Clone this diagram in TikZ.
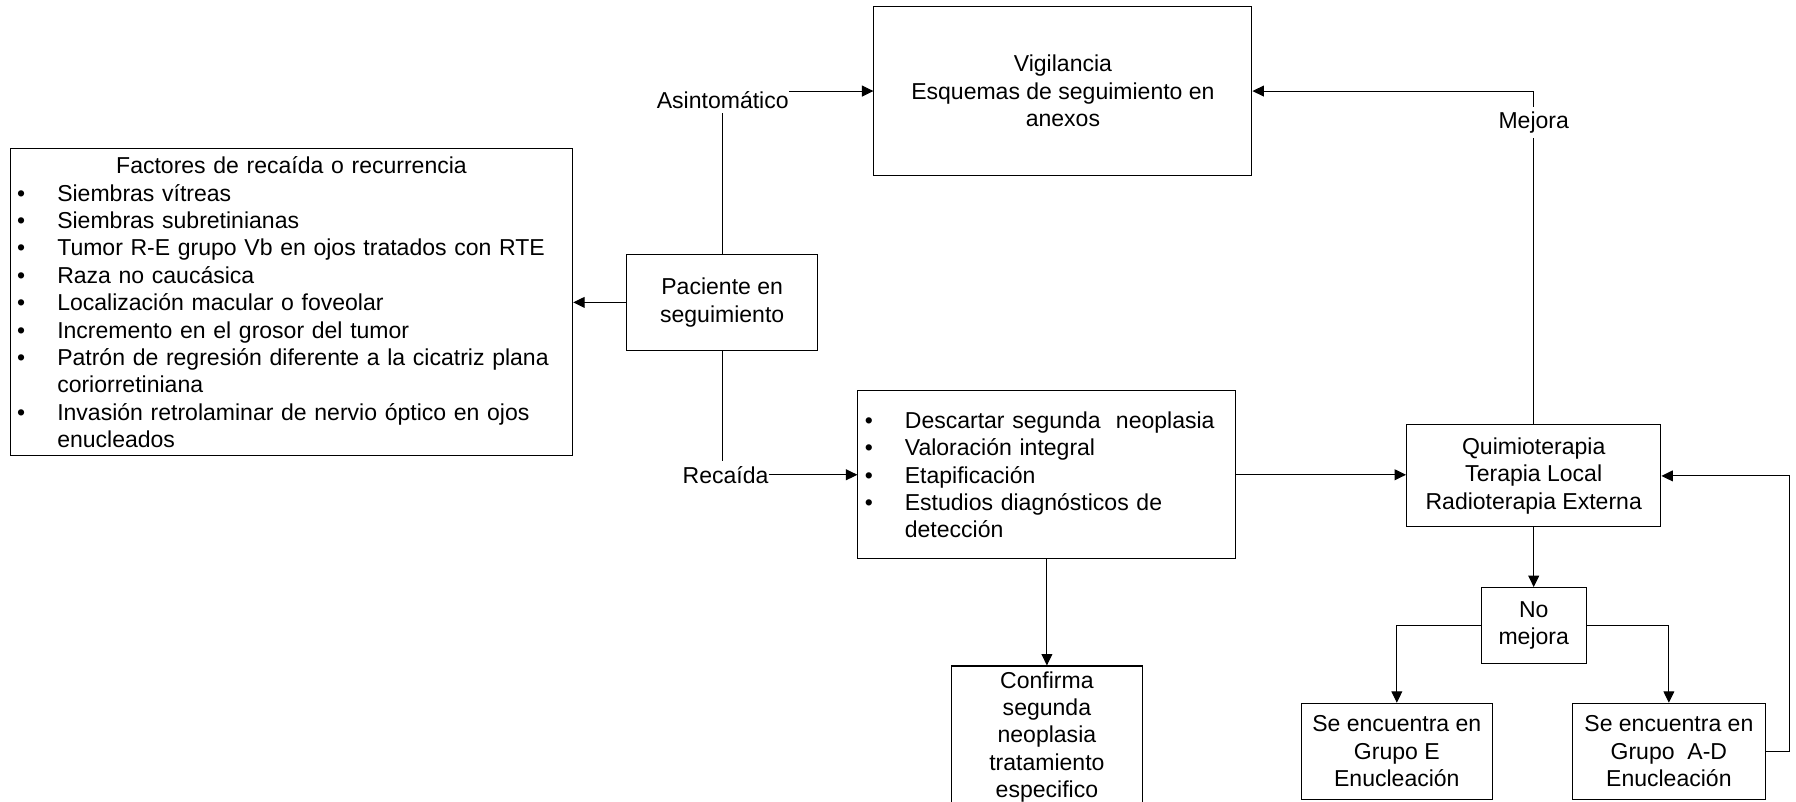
\documentclass[tikz,border=0pt]{standalone}
\usepackage{fontspec}
\setmainfont{Liberation Sans}
\usetikzlibrary{arrows.meta,calc}
\newcommand{\bitem}[1]{\hspace*{6pt}\makebox[35pt][l]{\textbullet}#1}
\newcommand{\bcont}[1]{\hspace*{41pt}#1}
\begin{document}
\begin{tikzpicture}[x=1pt,y=-1pt,
  every node/.style={font=\fontsize{20.1}{23.9}\selectfont},
  box/.style={draw, line width=0.9pt, align=center, inner sep=0pt},
  lbl/.style={inner xsep=0pt, inner ysep=4pt},
  arr/.style={line width=0.9pt, -{Triangle[length=10pt,width=9.5pt]}},
  ln/.style={line width=0.9pt}]
\clip (0,0) rectangle (1568,700);
% boxes
\node[box, minimum width=330pt, minimum height=147pt] (vig) at (928,79.5)
  {Vigilancia\\Esquemas de seguimiento en\\anexos};
\node[box, minimum width=167pt, minimum height=84pt] (pac) at (630.5,264)
  {Paciente en\\seguimiento};
\node[box, text width=491pt, minimum height=268pt, align=left] (fac) at (254.5,264)
  {\makebox[491pt][c]{Factores de recaída o recurrencia}\\
   \bitem{Siembras vítreas}\\
   \bitem{Siembras subretinianas}\\
   \bitem{Tumor R-E grupo Vb en ojos tratados con RTE}\\
   \bitem{Raza no caucásica}\\
   \bitem{Localización macular o foveolar}\\
   \bitem{Incremento en el grosor del tumor}\\
   \bitem{Patrón de regresión diferente a la cicatriz plana}\\
   \bcont{coriorretiniana}\\
   \bitem{Invasión retrolaminar de nervio óptico en ojos}\\
   \bcont{enucleados}};
\node[box, text width=330pt, minimum height=147pt, align=left] (desc) at (914,414.5)
  {\bitem{Descartar segunda~~neoplasia}\\
   \bitem{Valoración integral}\\
   \bitem{Etapificación}\\
   \bitem{Estudios diagnósticos de}\\
   \bcont{detección}};
\node[box, minimum width=222pt, minimum height=89pt] (qui) at (1339,415.5)
  {Quimioterapia\\Terapia Local\\Radioterapia Externa};
\node[box, minimum width=167pt, minimum height=124pt, anchor=north] (conf) at (914,581)
  {Confirma\\segunda\\neoplasia\\tratamiento\\especifico};
\node[box, minimum width=92pt, minimum height=66pt] (nom) at (1339,546)
  {No\\mejora};
\node[box, minimum width=167pt, minimum height=84pt] (ge) at (1219.5,656)
  {Se encuentra en\\Grupo E\\Enucleación};
\node[box, minimum width=168pt, minimum height=84pt] (gad) at (1457,656)
  {Se encuentra en\\Grupo~~A-D\\Enucleación};
% labels
\node[lbl] (asi) at (631,87) {Asintomático};
\node[lbl] (rec) at ($(pac.south |- desc.west)+(3,0)$) {Recaída};
% connectors
\draw[arr] (asi.east |- vig.west) -- (vig.west);
\draw[ln] (pac.north) -- (pac.north |- asi.south);
\draw[ln] (pac.south) -- (pac.south |- rec.north);
\draw[arr] (rec.east) -- (desc.west);
\draw[arr] (pac.west) -- (fac.east);
\draw[arr] (desc.east) -- (desc.east -| qui.west);
\draw[arr] (qui.north) |- node[pos=0.453, fill=white, inner xsep=2pt, inner ysep=4pt] (mej) {Mejora} (vig.east);
\draw[arr] (desc.south) -- (conf.north);
\draw[arr] (qui.south) -- (nom.north);
\draw[arr] (nom.west) -| (ge.north);
\draw[arr] (nom.east) -| (gad.north);
\coordinate (fb) at (1562,656);
\draw[arr] (gad.east) -- (fb) |- (qui.east);
\end{tikzpicture}
\end{document}
